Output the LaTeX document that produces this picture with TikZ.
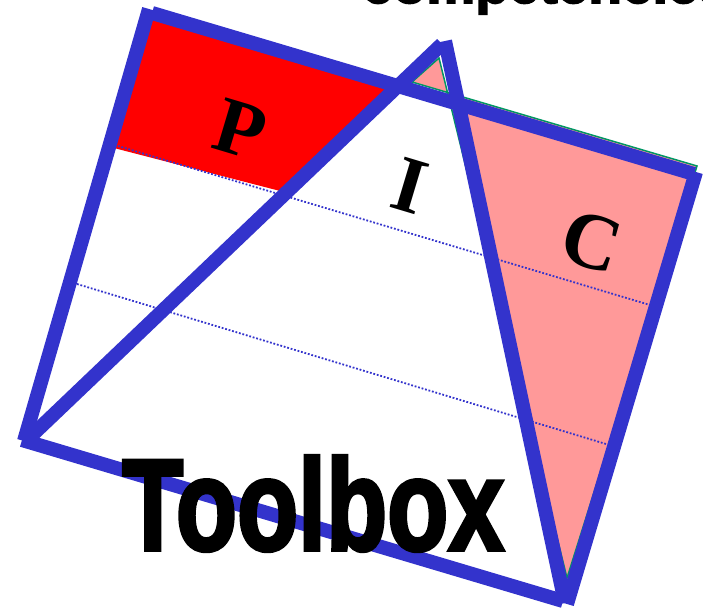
\documentclass[tikz,border=0pt]{standalone}
\usepackage{fontspec}
\setmainfont{Liberation Serif}
\newfontfamily\toolfont[FakeBold=3]{Liberation Sans Bold}
\definecolor{frameblue}{RGB}{51,51,204}
\definecolor{pinkfill}{RGB}{255,153,153}
\definecolor{edgegreen}{RGB}{0,150,100}
\tikzset{
  frameline/.style={draw=frameblue, line width=14pt, line cap=butt},
  dotline/.style={draw=frameblue, line width=1.8pt, dash pattern=on 1.8pt off 1.8pt},
  letter/.style={font=\fontsize{80}{80}\selectfont\bfseries, rotate=-16.7, inner sep=0pt},
}
\begin{document}
\begin{tikzpicture}[x=1pt,y=-1pt]
\useasboundingbox (0,0) rectangle (703,613);
% frame corners
\coordinate (tl) at (152,13);
\coordinate (tr) at (694,174);
\coordinate (rtop) at (696,172);
\coordinate (rbot) at (567,604);
\coordinate (bl) at (22,440);
\coordinate (br) at (563,601);
\coordinate (ltop) at (149,9);
\coordinate (lbot) at (24,441);
% triangle
\coordinate (ta) at (442,44);
\coordinate (tar) at (445,41);
\coordinate (tbl) at (27,440);
\coordinate (tb) at (565,603);
% pink region
\coordinate (pk1) at (439,58);
\coordinate (pk2) at (567,578);
\coordinate (pk3) at (697,166);
\coordinate (pk4) at (412,82);
% red region
\coordinate (rd1) at (149,12);
\coordinate (rd2) at (398,86);
\coordinate (rd3) at (284,192);
\coordinate (rd4) at (110,147);
% dotted lines
\coordinate (d1a) at (118,146);
\coordinate (d1b) at (650,305);
\coordinate (d2a) at (77,284);
\coordinate (d2b) at (606,444);

\fill[pinkfill, draw=edgegreen, line width=1.5pt] (pk1) -- (pk2) -- (pk3) -- (pk4) -- cycle;
\fill[red] (rd1) -- (rd2) -- (rd3) -- (rd4) -- cycle;

\draw[dotline] (d1a) -- (d1b);
\draw[dotline] (d2a) -- (d2b);

\draw[frameline] (tl) -- (tr);
\draw[frameline] (rtop) -- (rbot);
\draw[frameline] (bl) -- (br);
\draw[frameline] (ltop) -- (lbot);
\draw[frameline] (tbl) -- (ta);
\draw[frameline] (tar) -- (tb);

\node[letter] (P) at (240,129) {P};
\node[letter] (I) at (410,186) {I};
\node[letter] (C) at (592,242) {C};

\node[anchor=base west, inner sep=0pt, xscale=0.77, font=\toolfont\fontsize{130}{130}\selectfont] (tool) at (122,550) {Toolbox};
\node[anchor=base west, inner sep=0pt, font=\toolfont\fontsize{55}{55}\selectfont] (comp) at (362,3) {competencies};
\end{tikzpicture}
\end{document}
